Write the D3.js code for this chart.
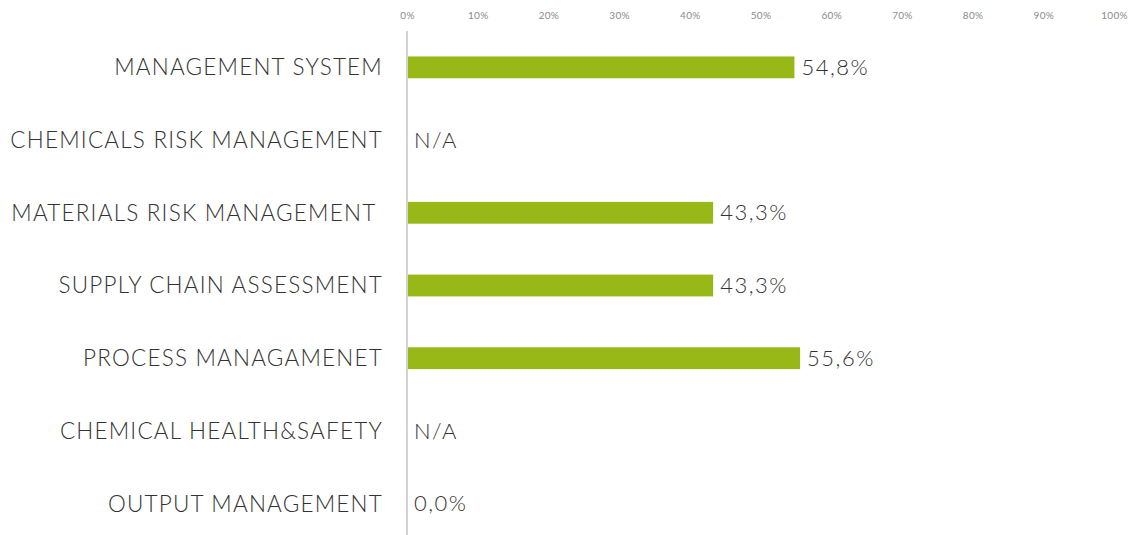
<!DOCTYPE html>
<html>
<head>
<meta charset="utf-8">
<script src="https://cdn.jsdelivr.net/npm/d3@7"></script>
<style>
  body { margin: 0; background: #fff; }
  text { font-family: Lato, "Open Sans", sans-serif; }
</style>
</head>
<body>
<svg id="chart" width="1132" height="535"></svg>
<script>
// categories top to bottom, null = not available
const categories = [
  'MANAGEMENT SYSTEM',
  'CHEMICALS RISK MANAGEMENT',
  'MATERIALS RISK MANAGEMENT ',
  'SUPPLY CHAIN ASSESSMENT',
  'PROCESS MANAGAMENET',
  'CHEMICAL HEALTH&SAFETY',
  'OUTPUT MANAGEMENT',
];
const values = [54.8, null, 43.3, 43.3, 55.6, null, 0.0];
const ticks = [0, 10, 20, 30, 40, 50, 60, 70, 80, 90, 100];

const svg = d3.select('#chart');
const x = d3.scaleLinear().domain([0, 100]).range([407, 1114]);
const y = d3.scaleBand().domain(categories).range([31, 540]).paddingInner(0.7).paddingOuter(0.35);

// top axis labels only, no line
svg.append('g')
  .attr('transform', 'translate(0,19)')
  .call(d3.axisTop(x).tickValues(ticks).tickFormat((d) => `${d}%`).tickSize(0).tickPadding(0))
  .call((g) => g.select('.domain').remove())
  .selectAll('text')
  .attr('fill', '#8a8a8a')
  .style('font-size', '10px')
  .style('letter-spacing', '0.3px');

svg.append('line')
  .attr('x1', x(0)).attr('x2', x(0))
  .attr('y1', 31).attr('y2', 535)
  .attr('stroke', '#c4c4c4')
  .attr('stroke-width', 1.5);

const rows = categories.map((c, i) => ({ cat: c, v: values[i] }));

svg.selectAll('rect.bar')
  .data(rows.filter((d) => d.v !== null))
  .join('rect')
  .attr('class', 'bar')
  .attr('x', x(0) + 1)
  .attr('y', (d) => y(d.cat))
  .attr('width', (d) => Math.max(0, x(d.v) - x(0) - 1))
  .attr('height', y.bandwidth())
  .attr('fill', '#97b816');

svg.selectAll('text.cat')
  .data(rows)
  .join('text')
  .attr('class', 'cat')
  .attr('x', 383)
  .attr('y', (d) => y(d.cat) + y.bandwidth() / 2)
  .attr('dy', '0.35em')
  .attr('text-anchor', 'end')
  .style('white-space', 'pre')
  .style('font-size', '22.5px')
  .style('font-weight', 300)
  .style('letter-spacing', '1.2px')
  .attr('fill', '#333')
  .text((d) => d.cat);

svg.selectAll('text.val')
  .data(rows)
  .join('text')
  .attr('class', 'val')
  .attr('x', (d) => (d.v ? x(d.v) + 7 : x(0) + 7))
  .attr('y', (d) => y(d.cat) + y.bandwidth() / 2)
  .attr('dy', '0.35em')
  .style('font-size', '22px')
  .style('font-weight', 300)
  .style('letter-spacing', '1.5px')
  .attr('fill', '#333')
  .text((d) => (d.v === null ? 'N/A' : `${d.v.toFixed(1).replace('.', ',')}%`));
</script>
</body>
</html>
